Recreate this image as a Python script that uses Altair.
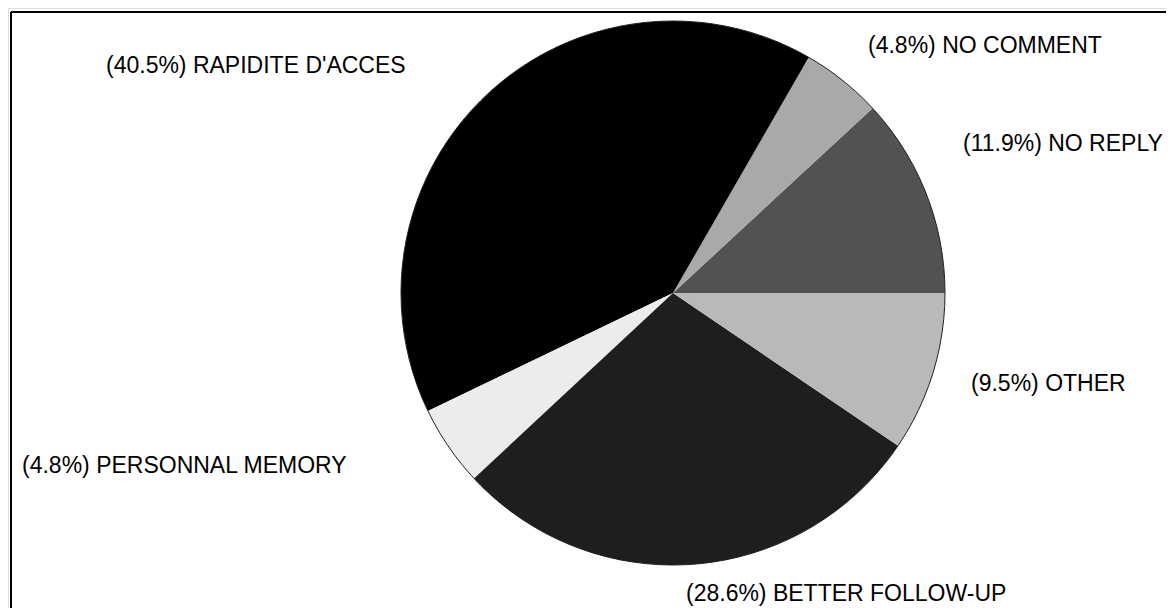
import math
import altair as alt
import pandas as pd

# ---- data ----
categories = ["NO REPLY", "NO COMMENT", "RAPIDITE D'ACCES", "PERSONNAL MEMORY",
              "BETTER FOLLOW-UP", "OTHER"]
percents = [11.9, 4.8, 40.5, 4.8, 28.6, 9.5]

# ---- styling / layout (kept apart from the data) ----
palette = ["#525252", "#a9a9a9", "#000000", "#ececec", "#1e1e1e", "#b9b9b9"]
label_left = [955, 860, 98, 14, 678, 963]      # chart-space x of label start
label_mid = [136, 38, 58, 458, 586, 376]        # chart-space y of label middle

W, H = 1158, 600
CX, CY, R = 665, 285, 272
FONT = "Liberation Sans"

df = pd.DataFrame({
    "category": categories,
    "pct": percents,
    "idx": list(range(len(categories))),
    "label": [f"({p}%) {c}" for p, c in zip(percents, categories)],
    "lx": label_left,
    "ly": label_mid,
})

theta_scale = alt.Scale(range=[2.5 * math.pi, 0.5 * math.pi])

pie = alt.Chart(df).mark_arc(radius=R, stroke=None).encode(
    theta=alt.Theta("pct:Q", stack=True, scale=theta_scale),
    order=alt.Order("idx:Q"),
    color=alt.Color("category:N", scale=alt.Scale(domain=categories, range=palette),
                    legend=None),
    x=alt.value(CX),
    y=alt.value(CY),
)

outline = alt.Chart(df).mark_arc(radius=R, fill=None, stroke="#202020",
                                 strokeWidth=1).encode(
    theta=alt.Theta("sum(pct):Q", stack=True, scale=theta_scale),
    x=alt.value(CX),
    y=alt.value(CY),
)

labels = alt.Chart(df).mark_text(align="left", baseline="middle", font=FONT,
                                 fontSize=23, color="#000000").encode(
    x=alt.X("lx:Q", scale=None),
    y=alt.Y("ly:Q", scale=None),
    text="label:N",
)

frame_left = alt.Chart(df).mark_rule(color="#000000", strokeWidth=2).encode(
    x=alt.value(3), y=alt.value(4), y2=alt.value(H + 10))
frame_top = alt.Chart(df).mark_rule(color="#000000", strokeWidth=2).encode(
    x=alt.value(3), x2=alt.value(W + 10), y=alt.value(4))

chart = alt.layer(pie, outline, labels, frame_left, frame_top).properties(
    width=W, height=H, padding=0,
    autosize=alt.AutoSizeParams(type="none"),
).configure_view(stroke=None).configure(background="#ffffff")

chart.save("out.html", embed_options={"renderer": "svg", "actions": False})
